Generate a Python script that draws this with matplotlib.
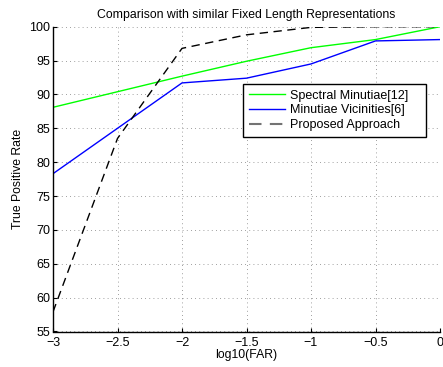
import numpy as np
import matplotlib
matplotlib.use('Agg')
import matplotlib.pyplot as plt

plt.rcParams['font.family'] = ['Liberation Sans', 'DejaVu Sans']

# log10(FAR) sample points
far_log = [-3, -2.5, -2, -1.5, -1, -0.5, 0]

# True positive rates
spectral = [88.1, 90.4, 92.7, 94.9, 96.9, 98.1, 100.0]
vicinities = [78.3, 85.0, 91.7, 92.4, 94.5, 97.9, 98.1]
proposed = [57.9, 83.5, 96.8, 98.8, 99.9, 100.0, 100.0]

labels = ['Spectral Minutiae[12]', 'Minutiae Vicinities[6]', 'Proposed Approach']

fig = plt.figure(figsize=(4.43, 3.67), dpi=100)
ax = fig.add_axes([53 / 443, 1 - 331.5 / 367, 387 / 443, (331.5 - 26.7) / 367])

ax.plot(far_log, spectral, color='#00ff00', linewidth=1.0, label=labels[0])
ax.plot(far_log, vicinities, color='#0000ff', linewidth=1.0, label=labels[1])
ax.plot(far_log, proposed, color='black', linestyle=(0, (6, 4)), linewidth=1.0, label=labels[2])

ax.set_xlim(-3, 0)
ax.set_ylim(55, 100)
ax.set_xticks(np.arange(-3, 0.01, 0.5))
ax.set_xticklabels(['\u22123', '\u22122.5', '\u22122', '\u22121.5', '\u22121', '\u22120.5', '0'])
ax.set_yticks(np.arange(55, 101, 5))

# matlab style dotted grid, a bit lighter and sparser
ax.grid(True, linestyle=(0, (1, 4)), color='black', linewidth=0.6, alpha=0.5)
for side in ['top', 'right']:
    ax.spines[side].set_visible(False)
for side in ['left', 'bottom']:
    ax.spines[side].set_linewidth(1.0)
ax.tick_params(direction='in', length=3, labelsize=9)
ax.tick_params(axis='x', pad=4)
ax.tick_params(axis='y', pad=2)

ax.set_title('Comparison with similar Fixed Length Representations', fontsize=8.8, pad=6)
ax.set_xlabel('log10(FAR)', fontsize=8.8, labelpad=0)
ax.set_ylabel('True Positive Rate', fontsize=8.8, labelpad=4)

# legend box placed like the matlab one (extra room on the right)
leg = ax.legend(loc='lower left', bbox_to_anchor=(0.492, 0.639, 0.473, 0.164),
                mode='expand', fontsize=9.0,
                frameon=True, fancybox=False, edgecolor='black', framealpha=1,
                borderaxespad=0, handlelength=2.9, handletextpad=0.35,
                borderpad=0.45, labelspacing=0.22)
leg.get_frame().set_linewidth(1.0)
leg.get_lines()[2].set_color('0.45')
leg.get_lines()[2].set_linewidth(1.5)

fig.savefig('out.png', dpi=100)
